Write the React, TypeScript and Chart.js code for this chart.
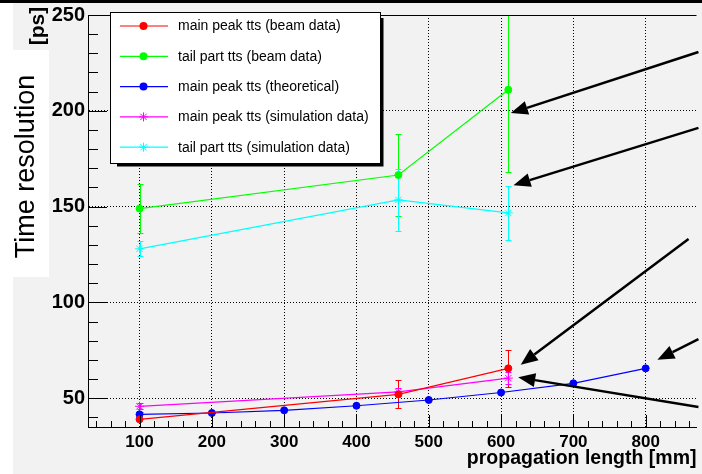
import { useEffect, useRef } from "react";
import { Chart, registerables } from "chart.js";

Chart.register(...registerables);

// ---------- data ----------
const beamX = [100, 458, 610];
const mainPeakBeam = [39, 52, 65.6];
const mainPeakBeamErr = [4, 7.3, 9.7];
const tailBeam = [149, 166.5, 211];
const tailBeamErr = [13, 21.5, 43];

const theoX = [100, 200, 300, 400, 500, 600, 700, 800];
const mainPeakTheo = [41.6, 42.3, 43.7, 46.1, 49.1, 53, 57.8, 65.6];

const simX = [100, 458, 610];
const mainPeakSim = [45.8, 53.3, 60.5];
const mainPeakSimErr = [1.5, 2, 3];
const tailSim = [128, 153.5, 146.7];
const tailSimErr = [4, 16, 14.2];

const xTicks = [100, 200, 300, 400, 500, 600, 700, 800];
const yTicks = [50, 100, 150, 200, 250];

const legendLabels = [
  "main peak tts (beam data)",
  "tail part tts (beam data)",
  "main peak tts (theoretical)",
  "main peak tts (simulation data)",
  "tail part tts (simulation data)",
];
const seriesColors = ["#ff0000", "#00ff00", "#0000ff", "#ff00ff", "#00ffff"];
const seriesMarkers = ["circle", "circle", "circle", "star", "star"];

// annotation arrows (data coordinates): tail -> head
const arrowFrom = [
  [873, 230.7],
  [873, 191.1],
  [859.3, 133.1],
  [873, 80.8],
  [873, 45.4],
];
const arrowTo = [
  [613.5, 198.8],
  [617.2, 161.2],
  [627.2, 67.5],
  [816.2, 70.1],
  [623.7, 60.9],
];

const X_MIN = 28.7;
const X_MAX = 870.3;
const Y_MIN = 35;
const Y_MAX = 250;

const FONT = '"Liberation Sans", Arial, Helvetica, sans-serif';

function pts(xs: number[], ys: number[]) {
  return xs.map((x, i) => ({ x, y: ys[i] }));
}

function drawStar(ctx: CanvasRenderingContext2D, x: number, y: number, r: number) {
  ctx.beginPath();
  ctx.moveTo(x - r, y);
  ctx.lineTo(x + r, y);
  ctx.moveTo(x, y - r);
  ctx.lineTo(x, y + r);
  const d = r * 0.7071;
  ctx.moveTo(x - d, y - d);
  ctx.lineTo(x + d, y + d);
  ctx.moveTo(x - d, y + d);
  ctx.lineTo(x + d, y - d);
  ctx.stroke();
}

const bgPlugin = {
  id: "bgPlugin",
  beforeDraw(chart: any) {
    const { ctx, width, height } = chart;
    ctx.save();
    ctx.fillStyle = "#ffffff";
    ctx.fillRect(0, 0, width, height);
    ctx.fillStyle = "#f2f2f2";
    ctx.fillRect(13, 0, width - 13, height);
    ctx.fillStyle = "#ffffff";
    ctx.fillRect(13, 50, 36, 227);
    ctx.restore();
  },
};

const errorPlugin = {
  id: "errorPlugin",
  beforeDatasetsDraw(chart: any) {
    const { ctx, chartArea } = chart;
    const xs = chart.scales.x;
    const ys = chart.scales.y;
    const sets: [number[], number[], number[], string][] = [
      [beamX, mainPeakBeam, mainPeakBeamErr, seriesColors[0]],
      [beamX, tailBeam, tailBeamErr, seriesColors[1]],
      [simX, mainPeakSim, mainPeakSimErr, seriesColors[3]],
      [simX, tailSim, tailSimErr, seriesColors[4]],
    ];
    ctx.save();
    ctx.beginPath();
    ctx.rect(chartArea.left, chartArea.top, chartArea.right - chartArea.left, chartArea.bottom - chartArea.top);
    ctx.clip();
    ctx.lineWidth = 1;
    for (const [xv, yv, ev, col] of sets) {
      ctx.strokeStyle = col;
      xv.forEach((x, i) => {
        const px = Math.round(xs.getPixelForValue(x)) + 0.5;
        const pt = Math.round(ys.getPixelForValue(yv[i] + ev[i])) + 0.5;
        const pb = Math.round(ys.getPixelForValue(yv[i] - ev[i])) + 0.5;
        ctx.beginPath();
        ctx.moveTo(px, pt);
        ctx.lineTo(px, pb);
        ctx.moveTo(px - 3, pt);
        ctx.lineTo(px + 3, pt);
        ctx.moveTo(px - 3, pb);
        ctx.lineTo(px + 3, pb);
        ctx.stroke();
      });
    }
    ctx.restore();
  },
};

const overlayPlugin = {
  id: "overlayPlugin",
  afterDraw(chart: any) {
    const { ctx, chartArea, width } = chart;
    const xs = chart.scales.x;
    const ys = chart.scales.y;
    ctx.save();

    // inner ticks
    ctx.strokeStyle = "#000";
    ctx.lineWidth = 1;
    ctx.beginPath();
    for (let v = 40; v <= 250; v += 10) {
      const py = Math.round(ys.getPixelForValue(v)) + 0.5;
      const len = v % 50 === 0 ? 19 : 10;
      ctx.moveTo(chartArea.left, py);
      ctx.lineTo(chartArea.left + len, py);
    }
    for (let v = 40; v <= 860; v += 20) {
      const px = Math.round(xs.getPixelForValue(v)) + 0.5;
      const len = v % 100 === 0 ? 12 : 6;
      ctx.moveTo(px, chartArea.bottom);
      ctx.lineTo(px, chartArea.bottom - len);
    }
    // top frame
    const ty = Math.round(chartArea.top) + 0.5;
    ctx.moveTo(chartArea.left, ty);
    ctx.lineTo(chartArea.right, ty);
    ctx.stroke();

    // arrows
    ctx.strokeStyle = "#000";
    ctx.fillStyle = "#000";
    ctx.lineWidth = 2.5;
    arrowFrom.forEach((f, i) => {
      const x1 = xs.getPixelForValue(f[0]);
      const y1 = ys.getPixelForValue(f[1]);
      const x2 = xs.getPixelForValue(arrowTo[i][0]);
      const y2 = ys.getPixelForValue(arrowTo[i][1]);
      const ang = Math.atan2(y2 - y1, x2 - x1);
      const hl = 17;
      const hw = 7;
      const bx = x2 - hl * Math.cos(ang);
      const by = y2 - hl * Math.sin(ang);
      ctx.beginPath();
      ctx.moveTo(x1, y1);
      ctx.lineTo(bx, by);
      ctx.stroke();
      ctx.beginPath();
      ctx.moveTo(x2, y2);
      ctx.lineTo(bx + hw * Math.sin(ang), by - hw * Math.cos(ang));
      ctx.lineTo(bx - hw * Math.sin(ang), by + hw * Math.cos(ang));
      ctx.closePath();
      ctx.fill();
    });

    // legend
    ctx.fillStyle = "#000";
    ctx.fillRect(117, 18, 266.5, 148.5);
    ctx.fillStyle = "#fff";
    ctx.fillRect(110.5, 12.5, 270, 151);
    ctx.lineWidth = 1;
    ctx.strokeStyle = "#000";
    ctx.strokeRect(110.5, 12.5, 270, 151);
    ctx.font = `14px ${FONT}`;
    ctx.textBaseline = "middle";
    ctx.textAlign = "left";
    legendLabels.forEach((lab, i) => {
      const y = 26 + i * 30.3;
      const col = seriesColors[i];
      ctx.strokeStyle = col;
      ctx.lineWidth = 1.2;
      ctx.beginPath();
      ctx.moveTo(120, y);
      ctx.lineTo(168, y);
      ctx.stroke();
      if (seriesMarkers[i] === "circle") {
        ctx.fillStyle = col;
        ctx.beginPath();
        ctx.arc(143.5, y, 4, 0, Math.PI * 2);
        ctx.fill();
      } else {
        ctx.lineWidth = 1;
        drawStar(ctx, 143.5, y, 4.5);
      }
      ctx.fillStyle = "#000";
      ctx.fillText(lab, 178, y + 0.5);
    });

    // y title
    ctx.fillStyle = "#000";
    ctx.save();
    ctx.translate(33.5, 166.5);
    ctx.rotate(-Math.PI / 2);
    ctx.font = `27px ${FONT}`;
    ctx.textAlign = "center";
    ctx.textBaseline = "alphabetic";
    ctx.fillText("Time resolution", 0, 0);
    ctx.restore();
    ctx.save();
    ctx.translate(38, 26);
    ctx.rotate(-Math.PI / 2);
    ctx.font = `bold 21px ${FONT}`;
    ctx.textAlign = "center";
    ctx.textBaseline = "middle";
    ctx.fillText("[ps]", 0, 0);
    ctx.restore();

    // top black bar
    ctx.fillStyle = "#000";
    ctx.fillRect(0, 0, width, 3);
    ctx.restore();
  },
};

export default function App() {
  const ref = useRef<HTMLCanvasElement>(null);
  useEffect(() => {
    document.body.style.margin = "0";
    const canvas = ref.current!;
    const mk = (i: number, data: { x: number; y: number }[]) => ({
      label: legendLabels[i],
      data,
      borderColor: seriesColors[i],
      backgroundColor: seriesColors[i],
      borderWidth: 1.2,
      pointRadius: seriesMarkers[i] === "circle" ? 3.5 : 4.5,
      pointBorderWidth: 1,
      pointStyle: seriesMarkers[i] as any,
      tension: 0,
      fill: false,
    });
    const chart = new Chart(canvas, {
      type: "line",
      data: {
        datasets: [
          mk(0, pts(beamX, mainPeakBeam)),
          mk(1, pts(beamX, tailBeam)),
          mk(2, pts(theoX, mainPeakTheo)),
          mk(3, pts(simX, mainPeakSim)),
          mk(4, pts(simX, tailSim)),
        ],
      },
      options: {
        animation: false,
        responsive: false,
        devicePixelRatio: 1,
        layout: { padding: { top: 11, left: 0, right: 0, bottom: 0 } },
        plugins: { legend: { display: false }, tooltip: { enabled: false } },
        scales: {
          x: {
            type: "linear",
            min: X_MIN,
            max: X_MAX,
            afterBuildTicks: (s: any) => {
              s.ticks = xTicks.map((v) => ({ value: v }));
            },
            afterFit: (s: any) => {
              s.height = 47;
            },
            grid: { color: "#000", lineWidth: 1, drawTicks: false },
            border: { display: true, color: "#000", width: 1, dash: [1, 2] },
            ticks: {
              autoSkip: false,
              maxRotation: 0,
              padding: 5,
              color: "#000",
              font: { family: FONT, size: 17, weight: "bold" },
            },
            title: {
              display: true,
              text: "propagation length [mm]",
              align: "end",
              color: "#000",
              font: { family: FONT, size: 19.5, weight: "bold" },
              padding: { top: 0, bottom: 4 },
            },
          },
          y: {
            type: "linear",
            min: Y_MIN,
            max: Y_MAX,
            afterBuildTicks: (s: any) => {
              s.ticks = yTicks.map((v) => ({ value: v }));
            },
            afterFit: (s: any) => {
              s.width = 88;
            },
            grid: { color: "#000", lineWidth: 1, drawTicks: false },
            border: { display: true, color: "#000", width: 1, dash: [1, 2] },
            ticks: {
              padding: 3,
              color: "#000",
              font: { family: FONT, size: 20, weight: "bold" },
            },
          },
        },
      } as any,
      plugins: [bgPlugin, errorPlugin, overlayPlugin],
    });
    return () => chart.destroy();
  }, []);
  return <canvas ref={ref} width={702} height={474} style={{ display: "block" }} />;
}
